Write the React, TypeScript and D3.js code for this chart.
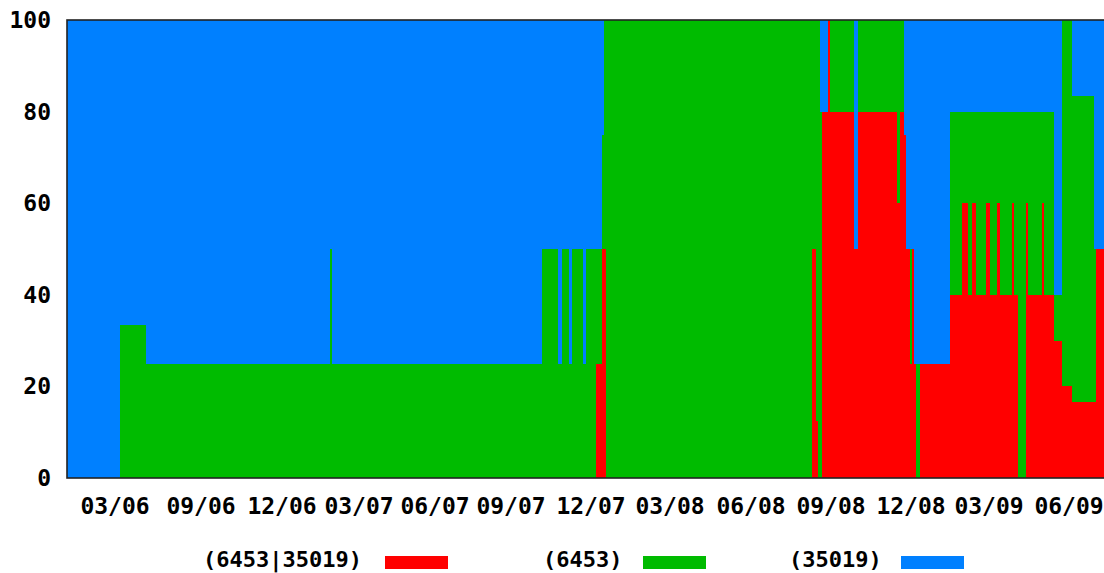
import React from "react";
import * as d3 from "d3";

// Sample index at which each period starts (x axis is sample-indexed, not linear in time)
const periodStart = [0, 53, 79, 263, 265, 475, 491, 495, 502, 505, 516, 519, 529, 535, 537, 539,
  745, 749, 751, 753, 755, 761, 763, 787, 791, 830, 833, 837, 839, 843, 845, 847, 849, 853,
  883, 895, 901, 905, 909, 919, 923, 930, 933, 945, 947, 951, 959, 961, 975, 977, 987, 995,
  1005, 1027, 1029];
const periodEnd = 1040;

// "(6453|35019)" share, %
const bothPct = [0, 0, 0, 0, 0, 0, 0, 0, 0, 0, 0, 0, 25, 50, 50, 0,
  50, 12.5, 0, 0, 80, 100, 80, 50, 80, 60, 80, 75, 50, 25, 50, 25, 0, 25,
  40, 60, 40, 60, 40, 60, 40, 60, 40, 60, 40, 0, 60, 40, 60, 40, 30, 20,
  16.7, 16.7, 50];
// "(6453)" share, %
const as6453Pct = [0, 33.3, 25, 50, 25, 50, 25, 50, 25, 50, 25, 50, 25, 25, 50, 100,
  50, 87.5, 100, 80, 0, 0, 20, 0, 20, 40, 20, 0, 0, 25, 0, 0, 25, 0,
  40, 20, 40, 20, 40, 20, 40, 20, 40, 20, 40, 80, 20, 40, 20, 40, 10, 80,
  66.6, 33.3, 0];
// "(35019)" share, %
const as35019Pct = [100, 66.7, 75, 50, 75, 50, 75, 50, 75, 50, 75, 50, 50, 25, 0, 0,
  0, 0, 0, 20, 20, 0, 0, 50, 0, 0, 0, 25, 50, 50, 50, 75, 75, 75,
  20, 20, 20, 20, 20, 20, 20, 20, 20, 20, 20, 20, 20, 20, 20, 20, 60, 0,
  16.7, 50, 50];

const seriesKeys = ["both", "as6453", "as35019"];
const seriesLabels = ["(6453|35019)", "(6453)", "(35019)"];
const seriesColors = ["#ff0000", "#00bb00", "#0080ff"];

const tickLabels = ["03/06", "09/06", "12/06", "03/07", "06/07", "09/07", "12/07",
  "03/08", "06/08", "09/08", "12/08", "03/09", "06/09"];
const tickAt = [48, 134, 215, 292, 368, 444, 524, 603, 684, 764, 844, 922, 1002];
const yTicks = [0, 20, 40, 60, 80, 100];

const W = 1104, H = 573;
const M = { left: 67, right: 1107, top: 20, bottom: 478 };
const FONT = "'DejaVu Sans Mono', monospace";
const legendTextX = [203, 543, 789];
const legendSwatchX = [385, 643, 901];

export default function App() {
  const rows = periodStart.map((t, i) => ({
    t,
    both: bothPct[i],
    as6453: as6453Pct[i],
    as35019: as35019Pct[i],
  }));
  const last = rows[rows.length - 1];
  rows.push({ ...last, t: periodEnd });

  const x = d3.scaleLinear().domain([0, periodEnd]).range([M.left, M.right]);
  const y = d3.scaleLinear().domain([0, 100]).range([M.bottom, M.top]);

  const stacked = d3.stack<any>().keys(seriesKeys)(rows);
  const area = d3
    .area<any>()
    .x((d) => x(d.data.t))
    .y0((d) => y(d[0]))
    .y1((d) => y(d[1]))
    .curve(d3.curveStepAfter);

  return (
    <svg width={W} height={H} style={{ position: "absolute", left: 0, top: 0, background: "#fff" }}>
      <defs>
        <clipPath id="plot">
          <rect x={M.left} y={M.top} width={M.right - M.left} height={M.bottom - M.top} />
        </clipPath>
      </defs>
      <g clipPath="url(#plot)" shapeRendering="crispEdges">
        {stacked.map((s, i) => (
          <path key={seriesKeys[i]} d={area(s) || ""} fill={seriesColors[i]} />
        ))}
      </g>
      <rect x={M.left} y={M.top} width={M.right - M.left + 4} height={M.bottom - M.top}
        fill="none" stroke="#222" strokeWidth={1.6} />
      <g fontFamily={FONT} fontWeight="bold" fontSize={23} fill="#000">
        {yTicks.map((v) => (
          <text key={v} x={51} y={y(v) + 8} textAnchor="end">{v}</text>
        ))}
        {tickLabels.map((l, i) => (
          <text key={l} x={x(tickAt[i])} y={514} textAnchor="middle">{l}</text>
        ))}
      </g>
      <g fontFamily={FONT} fontWeight="bold" fontSize={22} fill="#000">
        {seriesLabels.map((l, i) => (
          <g key={l}>
            <text x={legendTextX[i]} y={567}>{l}</text>
            <rect x={legendSwatchX[i]} y={556} width={63} height={13} fill={seriesColors[i]} />
          </g>
        ))}
      </g>
    </svg>
  );
}
